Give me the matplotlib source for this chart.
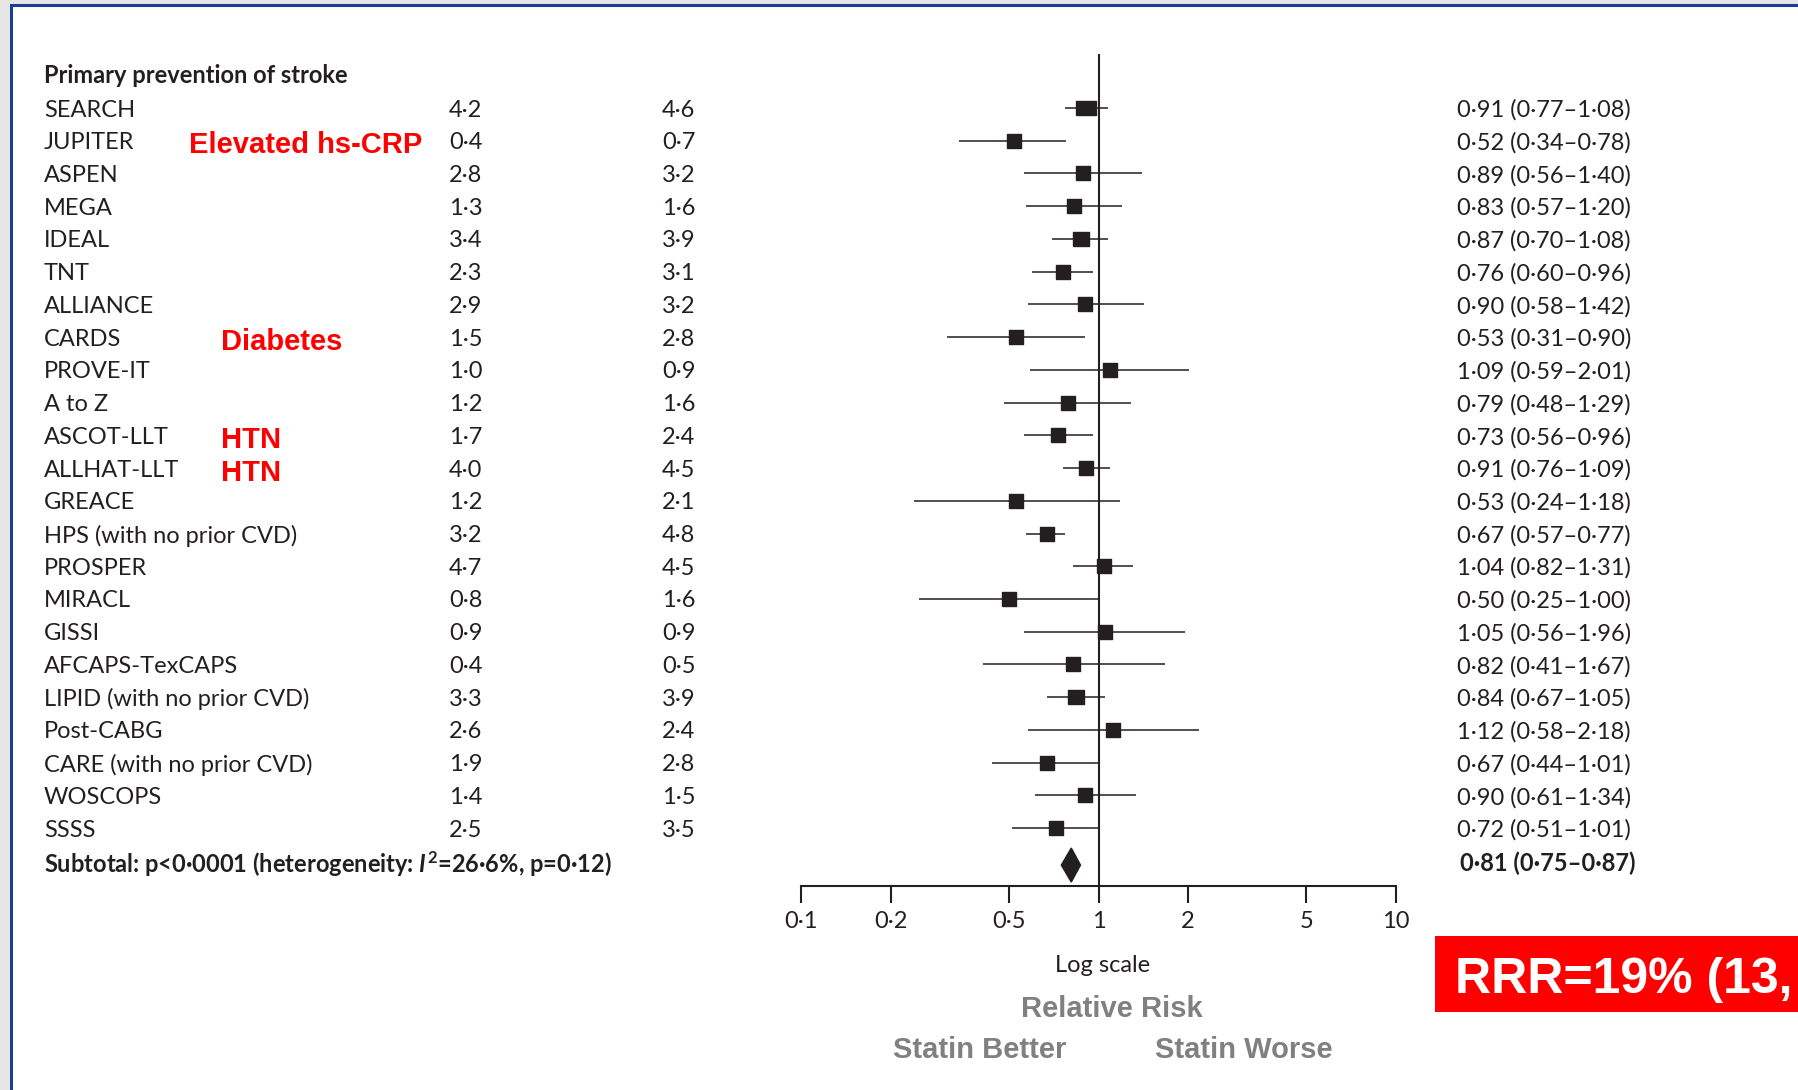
import numpy as np
import matplotlib.pyplot as plt
import matplotlib.transforms as mtransforms
from matplotlib.patches import Rectangle, Polygon

# data
trials = ["SEARCH", "JUPITER", "ASPEN", "MEGA", "IDEAL", "TNT", "ALLIANCE", "CARDS",
          "PROVE-IT", "A to Z", "ASCOT-LLT", "ALLHAT-LLT", "GREACE", "HPS (with no prior CVD)",
          "PROSPER", "MIRACL", "GISSI", "AFCAPS-TexCAPS", "LIPID (with no prior CVD)",
          "Post-CABG", "CARE (with no prior CVD)", "WOSCOPS", "SSSS"]
statin_rate = ["4·2", "0·4", "2·8", "1·3", "3·4", "2·3", "2·9", "1·5", "1·0", "1·2", "1·7", "4·0",
               "1·2", "3·2", "4·7", "0·8", "0·9", "0·4", "3·3", "2·6", "1·9", "1·4", "2·5"]
control_rate = ["4·6", "0·7", "3·2", "1·6", "3·9", "3·1", "3·2", "2·8", "0·9", "1·6", "2·4", "4·5",
                "2·1", "4·8", "4·5", "1·6", "0·9", "0·5", "3·9", "2·4", "2·8", "1·5", "3·5"]
rr = [0.91, 0.52, 0.89, 0.83, 0.87, 0.76, 0.90, 0.53, 1.09, 0.79, 0.73, 0.91,
      0.53, 0.67, 1.04, 0.50, 1.05, 0.82, 0.84, 1.12, 0.67, 0.90, 0.72]
lo = [0.77, 0.34, 0.56, 0.57, 0.70, 0.60, 0.58, 0.31, 0.59, 0.48, 0.56, 0.76,
      0.24, 0.57, 0.82, 0.25, 0.56, 0.41, 0.67, 0.58, 0.44, 0.61, 0.51]
hi = [1.08, 0.78, 1.40, 1.20, 1.08, 0.96, 1.42, 0.90, 2.01, 1.29, 0.96, 1.09,
      1.18, 0.77, 1.31, 1.00, 1.96, 1.67, 1.05, 2.18, 1.01, 1.34, 1.01]
sub_rr, sub_lo, sub_hi = 0.81, 0.75, 0.87
ticks = [0.1, 0.2, 0.5, 1, 2, 5, 10]
tick_labels = ["0·1", "0·2", "0·5", "1", "2", "5", "10"]
notes = {"JUPITER": "Elevated hs-CRP", "CARDS": "Diabetes", "ASCOT-LLT": "HTN", "ALLHAT-LLT": "HTN"}
# a few boxes are drawn wider than tall in the original
wide = {"SEARCH": 1.35, "IDEAL": 1.2, "LIPID (with no prior CVD)": 1.2}

def fmt(v):
    return f"{v:.2f}".replace(".", "·")

W, H = 1798, 1090
ink = "#231f20"
plt.rcParams['font.family'] = ['Lato', 'DejaVu Sans']
plt.rcParams['mathtext.fontset'] = 'custom'
plt.rcParams['mathtext.it'] = 'Lato:italic:bold'
plt.rcParams['mathtext.rm'] = 'Lato:bold'

fig = plt.figure(figsize=(W / 100, H / 100), dpi=100)
fig.patch.set_facecolor('#e6e6e6')
fig.add_artist(Rectangle((10.5 / W, -0.1), 1.2, 1.1 - 5 / H, transform=fig.transFigure,
                         facecolor='white', edgecolor='#1c3f94', linewidth=2.2, zorder=0))

ax_top, ax_bot = 54, 886
ax = fig.add_axes([801 / W, 1 - ax_bot / H, 595 / W, (ax_bot - ax_top) / H])
ax.set_facecolor('none')
ax.set_xscale('log')
ax.set_xlim(0.1, 10)
row0, step = 75.3, 32.73
ax.set_ylim((ax_bot - row0) / step, (ax_top - row0) / step)

ys = np.arange(1, len(trials) + 1)
ax.axvline(1, color=ink, lw=1.5, zorder=1)
ax.hlines(ys, lo, hi, color=ink, lw=1.1, zorder=2)
for i, name in enumerate(trials):
    k = wide.get(name, 1.0)
    box = [(-k, -1), (k, -1), (k, 1), (-k, 1), (-k, -1)]
    ax.plot(rr[i], ys[i], ls='none', marker=box, ms=10.2 * k, color=ink, zorder=3)
sy = len(trials) + 1
ax.add_patch(Polygon([(sub_lo, sy + 0.13), (sub_rr, sy + 0.13 - 0.52), (sub_hi, sy + 0.13),
                      (sub_rr, sy + 0.13 + 0.52)], closed=True, color=ink, zorder=3))

for s in ['top', 'left', 'right']:
    ax.spines[s].set_visible(False)
ax.spines['bottom'].set_linewidth(1.5)
ax.spines['bottom'].set_color(ink)
ax.set_yticks([])
ax.set_xticks(ticks)
ax.set_xticklabels(tick_labels)
ax.xaxis.set_minor_locator(plt.NullLocator())
ax.tick_params(axis='x', direction='out', length=12, width=1.5, color=ink, pad=6,
               labelsize=17, labelcolor=ink)

tr = mtransforms.blended_transform_factory(fig.transFigure, ax.transData)
fs = 17
ax.text(44 / W, -0.05, "Primary prevention of stroke", transform=tr, fontsize=fs,
        fontweight='bold', color=ink, va='center_baseline')
for i, name in enumerate(trials):
    y = ys[i]
    ax.text(44 / W, y, name, transform=tr, fontsize=fs, color=ink, va='center_baseline')
    ax.text(449 / W, y, statin_rate[i], transform=tr, fontsize=fs, color=ink, va='center_baseline')
    ax.text(662 / W, y, control_rate[i], transform=tr, fontsize=fs, color=ink, va='center_baseline')
    ax.text(1457 / W, y, f"{fmt(rr[i])} ({fmt(lo[i])}–{fmt(hi[i])})", transform=tr,
            fontsize=fs, color=ink, va='center_baseline')
    if name in notes:
        nx = 189 if name == "JUPITER" else 221
        ax.text(nx / W, y + 0.05, notes[name], transform=tr, fontsize=21, fontweight='bold',
                color='#ff0000', family='Liberation Sans', va='center_baseline')

ax.text(44 / W, sy, r"Subtotal: p<0·0001 (heterogeneity: $\mathit{I}^{\mathrm{2}}$=26·6%, p=0·12)",
        transform=tr, fontsize=fs, fontweight='bold', color=ink, va='center_baseline')
ax.text(1460 / W, sy, f"{fmt(sub_rr)} ({fmt(sub_lo)}–{fmt(sub_hi)})", transform=tr,
        fontsize=fs, fontweight='bold', color=ink, va='center_baseline')

# labels under the axis
fig.text(1103 / W, 1 - 965 / H, "Log scale", fontsize=fs, color=ink, ha='center', va='center')
gray = dict(fontsize=21, fontweight='bold', color='#808080', family='Liberation Sans',
            ha='center', va='center')
fig.text(1112 / W, 1 - 1009 / H, "Relative Risk", **gray)
fig.text(980 / W, 1 - 1050 / H, "Statin Better", **gray)
fig.text(1244 / W, 1 - 1050 / H, "Statin Worse", **gray)

# red summary box, cut off by the right edge as in the original slide
fig.add_artist(Rectangle((1435 / W, 1 - 1012 / H), 0.3, 76 / H, transform=fig.transFigure,
                         facecolor='#ff0000', edgecolor='none'))
fig.text(1455 / W, 1 - 975 / H, "RRR=19% (13, 25)", fontsize=36, fontweight='bold',
         color='white', family='Liberation Sans', va='center_baseline')

fig.savefig("out.png", dpi=100, facecolor=fig.get_facecolor())
